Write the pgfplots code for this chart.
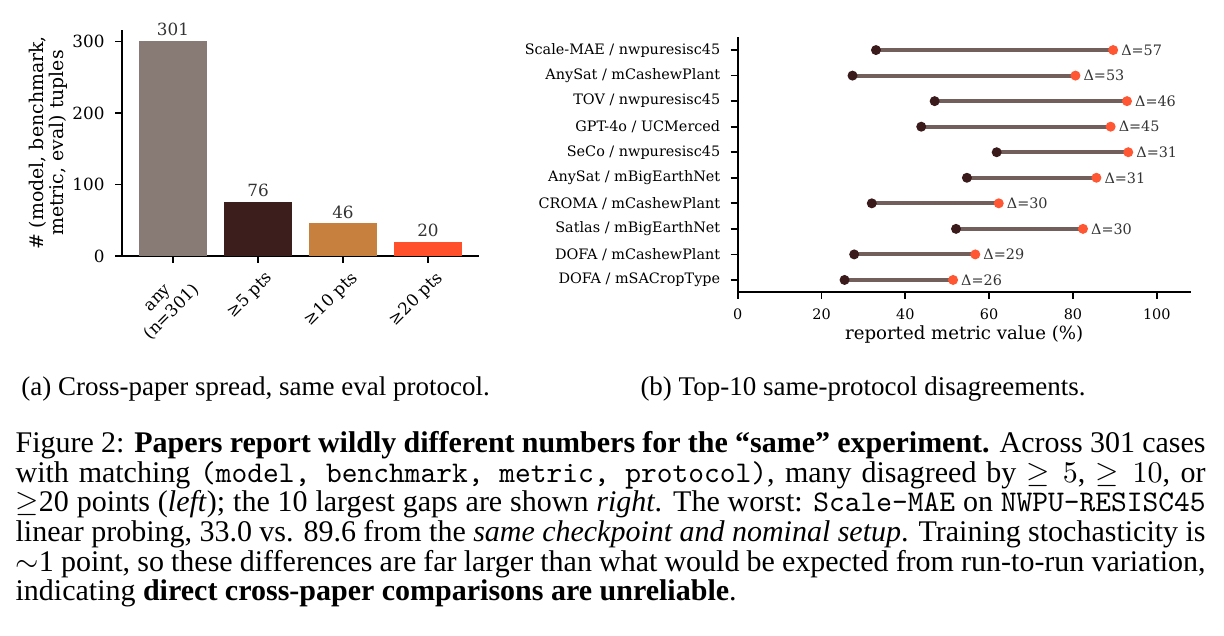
\documentclass[border=0pt]{standalone}
\usepackage{fontspec}
\setmainfont{Liberation Serif}
\newfontfamily\dvs{DejaVu Serif}
\usepackage{pgfplots}
\pgfplotsset{compat=1.18}
\definecolor{cAny}{HTML}{887B76}
\definecolor{cFive}{HTML}{3C1E1C}
\definecolor{cTen}{HTML}{C8803E}
\definecolor{cTwenty}{HTML}{FF4F2B}
\definecolor{cLine}{HTML}{725F5C}
\definecolor{cLow}{HTML}{3A1A1A}
\definecolor{cHigh}{HTML}{FF5733}
\definecolor{cTxt}{HTML}{333333}
\newcommand\fa{\dvs\fontsize{5.6}{6.7}\selectfont}
\newcommand\fl{\dvs\fontsize{6.3}{6.6}\selectfont}
\newcommand\fx{\dvs\fontsize{6.05}{6.6}\selectfont}
\newcommand\fb{\dvs\fontsize{4.8}{5.8}\selectfont}
\pgfplotstableread{
y lo hi d
9 33.0 89.6 57
8 27.4 80.6 53
7 47.0 92.9 46
6 43.8 89.0 45
5 61.8 93.2 31
4 54.7 85.6 31
3 32.0 62.3 30
2 52.1 82.4 30
1 27.8 56.7 29
0 25.5 51.4 26
}\gaps
\begin{document}
\begin{tikzpicture}
\path[use as bounding box] (0,0) rectangle (408pt,-212pt);
\begin{axis}[
  at={(40.67pt,-85.33pt)}, anchor=south west,
  scale only axis, width=119pt, height=75.33pt,
  xmin=-0.6, xmax=3.6, ymin=0, ymax=316,
  axis x line*=bottom, axis y line*=left,
  axis line style={line width=0.55pt, black},
  xtick={0,1,2,3},
  xticklabels={{any\\(n=301)},{≥5 pts},{≥10 pts},{≥20 pts}},
  ytick={0,100,200,300},
  tick align=outside, major tick length=2.33pt,
  every tick/.style={line width=0.55pt, black},
  ticklabel style={font=\fa},
  /pgf/number format/assume math mode=true,
  xticklabel style={rotate=45, anchor=north east, align=center, inner sep=0pt, yshift=-3pt},
  yticklabel style={inner sep=0pt, xshift=-3.3pt},
  ylabel={\# (model, benchmark,\\metric, eval) tuples},
  ylabel style={font=\fl, align=center, at={(axis description cs:-0.151,0.5)}, anchor=south, inner sep=0pt},
  every node near coord/.append style={font=\fa, text=cTxt, inner sep=0pt, yshift=1.4pt},
  clip=false,
]
\addplot[ybar, bar width=0.8, bar shift=0pt, fill=cAny, draw=none, nodes near coords] coordinates {(0,301)};
\addplot[ybar, bar width=0.8, bar shift=0pt, fill=cFive, draw=none, nodes near coords] coordinates {(1,76)};
\addplot[ybar, bar width=0.8, bar shift=0pt, fill=cTen, draw=none, nodes near coords] coordinates {(2,46)};
\addplot[ybar, bar width=0.8, bar shift=0pt, fill=cTwenty, draw=none, nodes near coords] coordinates {(3,20)};
\end{axis}
\begin{axis}[
  at={(245.9pt,-97.23pt)}, anchor=south west,
  scale only axis, width=151pt, height=84.8pt,
  xmin=0, xmax=108.1, ymin=-0.46, ymax=9.5,
  axis x line*=bottom, axis y line*=left,
  axis line style={line width=0.55pt, black},
  ytick={0,...,9},
  yticklabels={DOFA / mSACropType, DOFA / mCashewPlant, Satlas / mBigEarthNet, CROMA / mCashewPlant, AnySat / mBigEarthNet, SeCo / nwpuresisc45, GPT-4o / UCMerced, TOV / nwpuresisc45, AnySat / mCashewPlant, Scale-MAE / nwpuresisc45},
  xtick={0,20,40,60,80,100},
  tick align=outside, major tick length=2.33pt,
  every tick/.style={line width=0.55pt, black},
  ticklabel style={font=\fb},
  /pgf/number format/assume math mode=true,
  xticklabel style={inner sep=0pt, yshift=-3.3pt},
  yticklabel style={inner sep=0pt, xshift=-3.3pt},
  xlabel={reported metric value (\%)},
  xlabel style={font=\fx, inner sep=0pt, at={(axis description cs:0.5,0)}, anchor=base, yshift=-15.8pt},
  clip=false,
]
\addplot[cLine, line width=1.33pt] coordinates {(33.0,9) (89.6,9)};
\addplot[cLine, line width=1.33pt] coordinates {(27.4,8) (80.6,8)};
\addplot[cLine, line width=1.33pt] coordinates {(47.0,7) (92.9,7)};
\addplot[cLine, line width=1.33pt] coordinates {(43.8,6) (89.0,6)};
\addplot[cLine, line width=1.33pt] coordinates {(61.8,5) (93.2,5)};
\addplot[cLine, line width=1.33pt] coordinates {(54.7,4) (85.6,4)};
\addplot[cLine, line width=1.33pt] coordinates {(32.0,3) (62.3,3)};
\addplot[cLine, line width=1.33pt] coordinates {(52.1,2) (82.4,2)};
\addplot[cLine, line width=1.33pt] coordinates {(27.8,1) (56.7,1)};
\addplot[cLine, line width=1.33pt] coordinates {(25.5,0) (51.4,0)};
\addplot[color=cLow, only marks, mark=*, mark size=1.45pt, mark options={draw=none, fill=cLow}] table[x=lo, y=y] {\gaps};
\addplot[color=cHigh, only marks, mark=*, mark size=1.45pt, mark options={draw=none, fill=cHigh},
  point meta=explicit symbolic, nodes near coords={Δ=\pgfplotspointmeta},
  every node near coord/.style={anchor=west, xshift=2.5pt, inner sep=0pt, font=\fb, text=cTxt}]
  table[x=hi, y=y, meta=d] {\gaps};
\end{axis}
\node[anchor=base west, inner sep=0pt, font=\fontsize{9}{10}\selectfont] at (6.9pt,-131.67pt) {(a) Cross-paper spread, same eval protocol.};
\node[anchor=base west, inner sep=0pt, font=\fontsize{9}{10}\selectfont] at (213.3pt,-131.67pt) {(b) Top-10 same-protocol disagreements.};
\node[anchor=base west, inner sep=0pt] at (5pt,-150.9pt) {\parbox[t]{396.67pt}{\fontsize{10}{9.87}\selectfont\hyphenpenalty=10000 \exhyphenpenalty=10000
Figure 2: \textbf{Papers report wildly different numbers for the ``same'' experiment.} Across 301 cases\linebreak
with matching \texttt{(model, benchmark, metric, protocol)}, many disagreed by $\geq 5$, $\geq 10$, or\linebreak
$\geq$20 points (\emph{left}); the 10 largest gaps are shown \emph{right}. The worst: \texttt{Scale-MAE} on \texttt{NWPU-RESISC45}\linebreak
linear probing, 33.0 vs. 89.6 from the \emph{same checkpoint and nominal setup}. Training stochasticity is\linebreak
$\sim$1 point, so these differences are far larger than what would be expected from run-to-run variation,\linebreak
indicating \textbf{direct cross-paper comparisons are unreliable}.}};
\end{tikzpicture}
\end{document}
